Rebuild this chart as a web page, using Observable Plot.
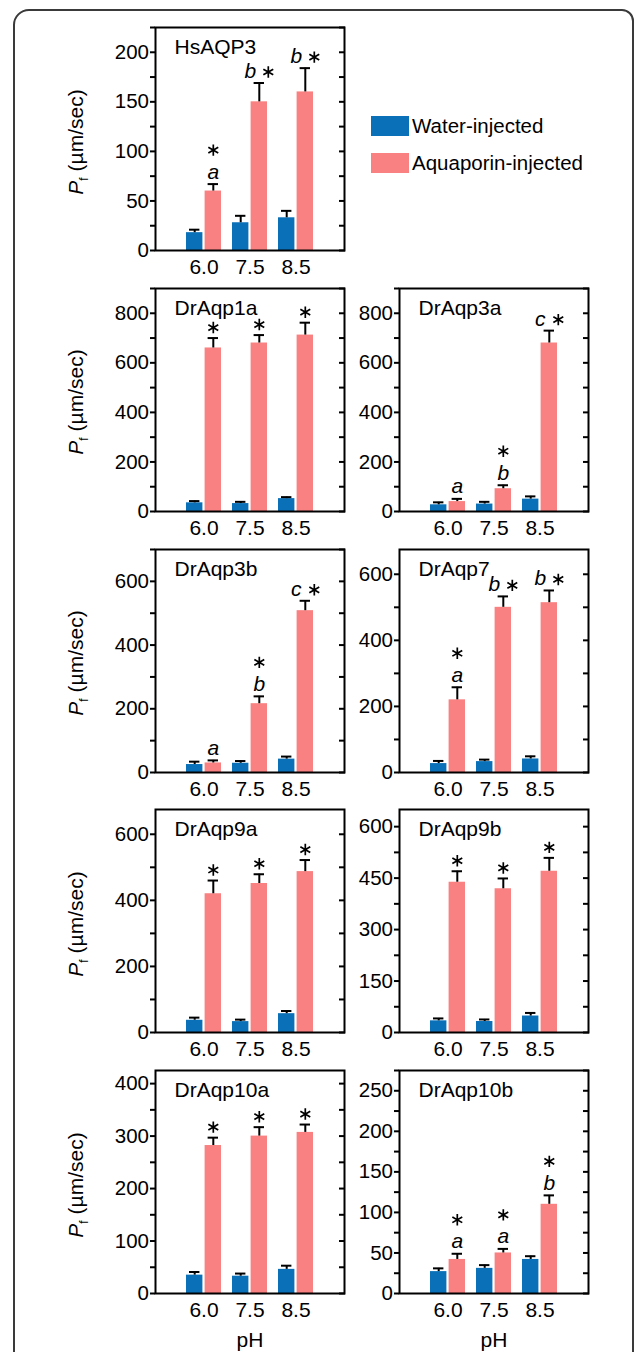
<!DOCTYPE html>
<html><head><meta charset="utf-8">
<script src="https://cdn.jsdelivr.net/npm/d3@7"></script>
<script src="https://cdn.jsdelivr.net/npm/@observablehq/plot@0.6"></script>
<style>
html,body{margin:0;padding:0;background:#fff;}
body{width:636px;height:1352px;overflow:hidden;position:relative;font-family:"Liberation Sans",Arial,sans-serif;color:#000;}
#outer{position:absolute;left:13px;top:9px;width:621px;height:1420px;border:2px solid #3a3a3a;border-radius:16px 12px 0 0;box-sizing:border-box;}
.panel{position:absolute;}
.ylab{position:absolute;transform:translate(-50%,-50%) rotate(-90deg);white-space:nowrap;font-size:21px;line-height:21px;}
.ylab sub{font-size:12px;vertical-align:-5px;line-height:0;}
.lg{position:absolute;font-size:20.5px;white-space:nowrap;}
.sw{position:absolute;width:38px;height:20px;}
</style></head><body>
<div id="outer"></div>
<div id="root"></div>
<script>
// ---- data ----
const pH = ["6.0", "7.5", "8.5"];
const names = ["HsAQP3", "DrAqp1a", "DrAqp3a", "DrAqp3b", "DrAqp7", "DrAqp9a", "DrAqp9b", "DrAqp10a", "DrAqp10b"];
const water    = [[18,28,33],[35,32,52],[27,30,50],[25,29,42],[27,33,41],[37,33,57],[34,32,48],[35,33,46],[27,31,42]];
const waterErr = [[3,7,7],[7,7,6],[10,9,11],[9,7,8],[8,6,8],[8,6,8],[7,6,9],[6,5,7],[4,4,4]];
const aqua     = [[60,150,160],[660,680,712],[40,92,680],[30,216,508],[220,500,514],[420,451,487],[438,419,470],[282,300,307],[42,50,110]];
const aquaErr  = [[7,19,24],[40,32,50],[11,14,50],[8,23,31],[38,33,37],[40,28,35],[32,30,39],[15,17,15],[7,5,11]];
// significance marks: "*a" star above letter, "b*" letter then star, "*" star only, "a" letter only
const sig = [["*a","b*","b*"],["*","*","*"],["a","*b","c*"],["a","*b","c*"],["*a","b*","b*"],["*","*","*"],["*","*","*"],["*","*","*"],["*a","*a","*b"]];
const yMax   = [225, 900, 900, 700, 675, 675, 650, 425, 275];
const yMinor = [25, 100, 100, 100, 100, 100, 75, 50, 25];
const seriesNames = ["Water-injected", "Aquaporin-injected"];
const xTitle = "pH";

// ---- layout ----
const BLUE = "#0a71b9", PINK = "#f98181";
const FONT = "Liberation Sans, Arial, sans-serif";
const colLeft = [155, 398.5];
const rowTop = [27, 287.5, 548.5, 809, 1070];
const FW = 189, FH = 223;
const root = document.getElementById("root");

names.forEach((name, i) => {
  const col = i === 0 ? 0 : (i - 1) % 2;
  const row = i === 0 ? 0 : Math.floor((i - 1) / 2) + 1;
  const mL = 60, mR = 8, mT = 10, mB = row === 4 ? 62 : 40;
  const data = pH.map((p, j) => {
    const s = sig[i][j];
    const letter = s.replace("*", "");
    return {
      pH: p, water: water[i][j], waterErr: waterErr[i][j], aqua: aqua[i][j], aquaErr: aquaErr[i][j],
      wTop: water[i][j] + waterErr[i][j], aTop: aqua[i][j] + aquaErr[i][j],
      letter, star: s.includes("*"),
      mode: !letter ? "star" : !s.includes("*") ? "letter" : s.startsWith("*") ? "stack" : "side"
    };
  });
  const ticks = d3.range(0, yMax[i] + 1e-9, yMinor[i]);
  const off = 9.3;
  const star = {symbol: "asterisk", r: 5.4, stroke: "black", strokeWidth: 1.7};
  const marks = [
    Plot.barY(data, {x: "pH", y: "water", fill: BLUE, insetRight: 18.6}),
    Plot.barY(data, {x: "pH", y: "aqua", fill: PINK, insetLeft: 18.6}),
    Plot.ruleX(data, {x: "pH", y1: "water", y2: "wTop", dx: -off, strokeWidth: 2}),
    Plot.ruleX(data, {x: "pH", y1: "aqua", y2: "aTop", dx: off, strokeWidth: 2}),
    Plot.tickY(data, {x: "pH", y: "wTop", insetLeft: 3, insetRight: 21.6, strokeWidth: 2}),
    Plot.tickY(data, {x: "pH", y: "aTop", insetLeft: 21.6, insetRight: 3, strokeWidth: 2}),
    // letters
    Plot.text(data.filter(d => d.mode === "stack" || d.mode === "letter"), {x: "pH", y: "aTop", text: "letter", dx: off, dy: -5.5, lineAnchor: "bottom", fontSize: 21, fontStyle: "italic"}),
    Plot.text(data.filter(d => d.mode === "side"), {x: "pH", y: "aTop", text: "letter", dx: off - 9, dy: -5, lineAnchor: "bottom", fontSize: 21, fontStyle: "italic"}),
    // stars
    Plot.dot(data.filter(d => d.mode === "star"), {x: "pH", y: "aTop", dx: off, dy: -10.5, ...star}),
    Plot.dot(data.filter(d => d.mode === "stack"), {x: "pH", y: "aTop", dx: off, dy: -34, ...star}),
    Plot.dot(data.filter(d => d.mode === "side"), {x: "pH", y: "aTop", dx: off + 9, dy: -11, ...star}),
    // axes
    Plot.axisY({ticks, tickSize: 5, tickPadding: 1.5, strokeWidth: 2, fontSize: 20.5, label: null,
      tickFormat: d => (Math.round(d / yMinor[i]) % 2 === 0 ? d3.format("d")(d) : "")}),
    Plot.axisY({ticks, anchor: "right", tickSize: 6, dx: -6, strokeWidth: 2, fill: "none", label: null}),
    Plot.axisX({tickSize: 0, tickPadding: 8.5, fontSize: 21, label: null}),
    Plot.frame({strokeWidth: 2}),
    Plot.text([name], {frameAnchor: "top-left", dx: 19, dy: 26, lineAnchor: "bottom", fontSize: 21})
  ];
  if (row === 4) marks.push(Plot.text([xTitle], {frameAnchor: "bottom", dy: 53, lineAnchor: "bottom", fontSize: 21}));
  const svg = Plot.plot({
    width: mL + FW + mR, height: mT + FH + mB,
    marginLeft: mL, marginRight: mR, marginTop: mT, marginBottom: mB,
    style: {fontFamily: FONT, fontSize: "20px", background: "transparent", overflow: "visible", color: "black"},
    x: {type: "band", domain: pH, paddingInner: 0.245, paddingOuter: 0.644},
    y: {domain: [0, yMax[i]]},
    marks
  });
  const wrap = document.createElement("div");
  wrap.className = "panel";
  wrap.style.left = (colLeft[col] - mL) + "px";
  wrap.style.top = (rowTop[row] - mT) + "px";
  wrap.appendChild(svg);
  root.appendChild(wrap);
  if (col === 0) {
    const yl = document.createElement("div");
    yl.className = "ylab";
    yl.innerHTML = "<i>P</i><sub>f</sub> (µm/sec)";
    yl.style.left = "75px";
    yl.style.top = (rowTop[row] + FH / 2 + 3) + "px";
    root.appendChild(yl);
  }
});

// legend
[[BLUE, 116], [PINK, 153]].forEach(([c, t], k) => {
  const sw = document.createElement("div");
  sw.className = "sw"; sw.style.background = c; sw.style.left = "371px"; sw.style.top = t + "px";
  root.appendChild(sw);
  const tx = document.createElement("div");
  tx.className = "lg"; tx.textContent = seriesNames[k];
  tx.style.left = "412px"; tx.style.top = (t - 2) + "px"; tx.style.lineHeight = "24px";
  root.appendChild(tx);
});
</script>
</body></html>
